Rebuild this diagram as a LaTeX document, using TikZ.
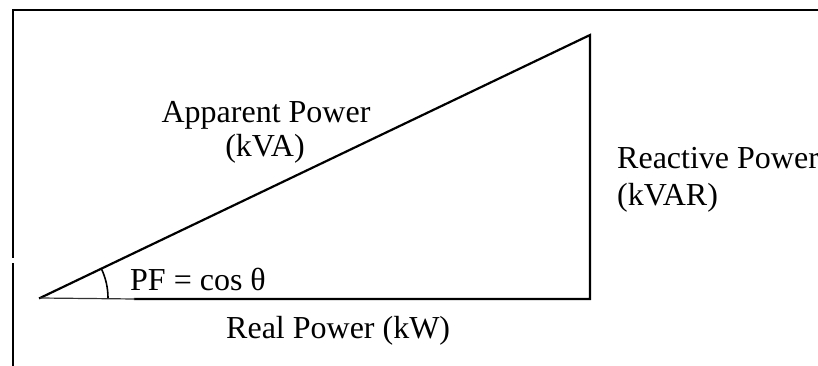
\documentclass[tikz,border=0pt]{standalone}
\usepackage{fontspec}
\setmainfont{Liberation Serif}
\begin{document}
\begin{tikzpicture}[x=1pt,y=-1pt,
  lbl/.style={inner sep=0pt,font=\fontsize{32}{38}\selectfont},
  edge/.style={line width=2.2pt,line cap=rect},
  thin/.style={line width=1.2pt,draw=black!80},
  frame/.style={line width=2.2pt}]
\useasboundingbox (0,0) rectangle (818,366);
% frame
\coordinate (ftr) at (818,10);
\coordinate (ftl) at (13,10);
\coordinate (fg1) at (13,258);
\coordinate (fg2) at (13,263);
\coordinate (fbl) at (13,366);
\draw[frame] (ftr) -- (ftl) -- (fg1);
\draw[frame] (fg2) -- (fbl);
% triangle
\coordinate (A) at (40,298);
\coordinate (B) at (590,299);
\coordinate (C) at (590,35);
\coordinate (D) at (135,299);
\draw[edge] (A) -- (C) -- (B) -- (D);
\draw[thin] (A) -- (D);
\draw[line width=1.6pt] ([shift={(0:68)}]A) arc[start angle=0,end angle=-26,radius=68];
% labels
\node[lbl,anchor=base] (app) at (266,123) {Apparent Power};
\node[lbl,anchor=base] (kva) at (265,157) {(kVA)};
\node[lbl,anchor=base west] (rea) at (617,168) {Reactive Power};
\node[lbl,anchor=base west] (kvar) at (617,205) {(kVAR)};
\node[lbl,anchor=base west] (pf) at (130,290) {PF = cos θ};
\node[lbl,anchor=base west] (real) at (226,338) {Real Power (kW)};
\end{tikzpicture}
\end{document}
